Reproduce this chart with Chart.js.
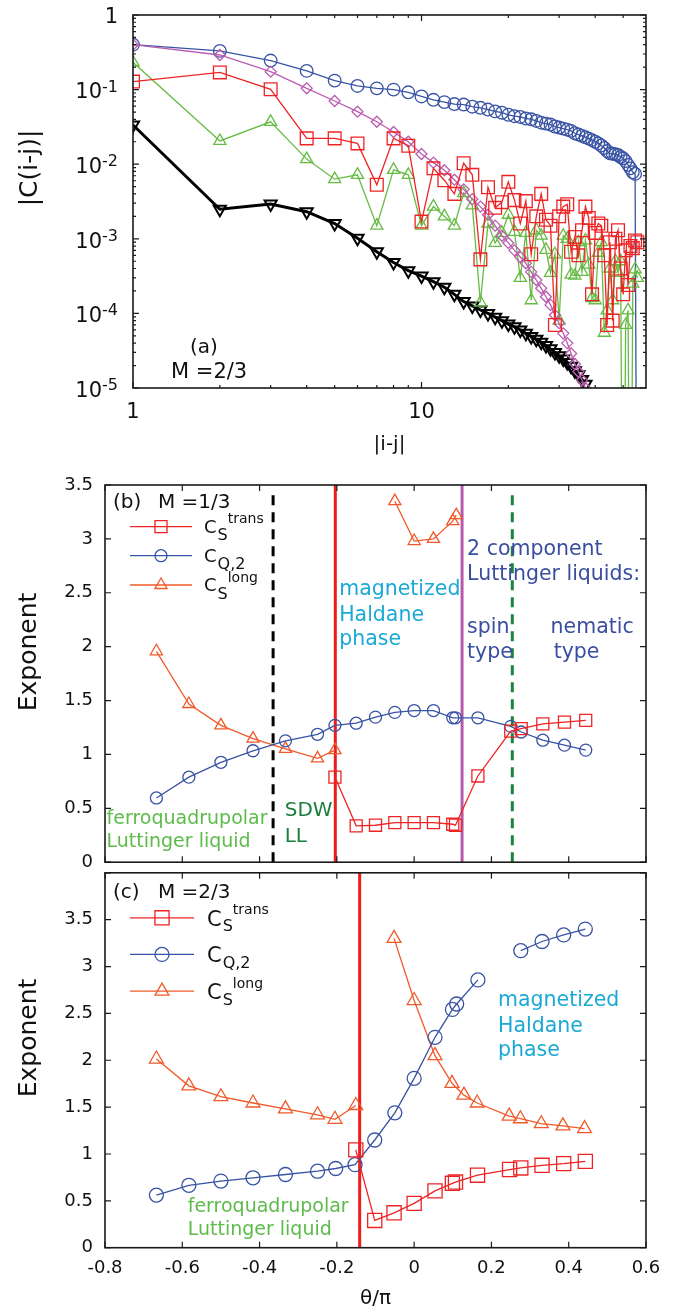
<!DOCTYPE html>
<html><head><meta charset="utf-8">
<script src="https://cdn.jsdelivr.net/npm/chart.js@4.4.1/dist/chart.umd.min.js"></script>
<style>
html,body{margin:0;padding:0;background:#fff;}
body{width:681px;height:1311px;position:relative;overflow:hidden;}
canvas{position:absolute;left:0;}
</style></head><body>
<canvas id="ca" width="681" height="470" style="top:0px;width:681px;height:470px"></canvas>
<canvas id="cb" width="681" height="430" style="top:455px;width:681px;height:430px"></canvas>
<canvas id="cc" width="681" height="461" style="top:850px;width:681px;height:461px"></canvas>
<script>
const FONT = '"DejaVu Sans", "Liberation Sans", sans-serif';

// ---------- Panel (a) data : |C(i-j)| vs |i-j| ----------
const aSep = [1,2,3,4,5,6,7,8,9,10,11,12,13,14,15,16,17,18,19,20,21,22,23,24,25,26,27,28,29,30,31,32,33,34,35,36,37,38,39,40,41,42,43,44,45,46,47,48,49,50,51,52,53,54,55,56];
const aBlue = [0.40,0.33,0.245,0.178,0.132,0.112,0.104,0.100,0.092,0.081,0.073,0.068,0.064,0.063,0.059,0.057,0.054,0.051,0.049,0.046,0.044,0.043,0.041,0.040,0.038,0.036,0.035,0.034,0.032,0.031,0.030,0.029,0.028,0.026,0.025,0.024,0.023,0.022,0.021,0.020,0.019,0.0178,0.0165,0.015,0.014,0.0138,0.0136,0.0133,0.0125,0.012,0.011,0.0098,0.0088,0.0078,0.0074,1e-9];
const aBlack = [0.0335,0.00249,0.00293,0.00231,0.0016,0.00102,0.00067,0.00048,0.000374,0.000317,0.000266,0.000224,0.00018,0.000144,0.000126,0.000111,0.0001,0.000089,0.00008,0.000072,0.000066,0.00006,0.000054,0.000049,0.000045,0.000041,0.000037,0.0000335,0.00003,0.000027,0.0000245,0.000022,0.0000195,0.000017,0.000015,0.000013,0.0000112];
const aPurple = [0.40,0.291,0.174,0.104,0.0703,0.0506,0.0371,0.0270,0.020,0.0137,0.0105,0.0083,0.0062,0.0046,0.0034,0.0027,0.0021,0.0015,0.0011,0.00088,0.0007,0.00057,0.00047,0.00036,0.00028,0.000217,0.000167,0.00013,0.000095,0.000074,0.000054,0.00004,0.000029,0.000021,0.0000165,0.0000128,0.00001];
const aRed = [0.128,0.17,0.101,0.0222,0.0222,0.019,0.0053,0.0222,0.0177,0.0017,0.0088,0.0061,0.0040,0.0103,0.0072,0.00053,0.0049,0.0026,0.0031,0.0058,0.0033,0.0016,0.0032,0.00062,0.0020,0.0040,0.0018,0.0015,0.00007,0.0020,0.0027,0.0029,0.00067,0.00106,0.0006,0.0013,0.0027,0.0019,0.00018,0.0012,0.0016,0.0015,0.0006,0.00007,0.0009,0.00008,0.0010,0.0013,0.0004,0.00018,0.0007,0.00024,0.0008,0.00075,0.00095,0.0009];
const aGreen = [0.232,0.0205,0.037,0.0117,0.0063,0.0072,0.0015,0.0084,0.0072,0.0015,0.0027,0.0020,0.0015,0.0041,0.0028,0.00014,0.0016,0.00088,0.0012,0.0021,0.00124,0.0003,0.0012,0.00015,0.0013,0.0011,0.00071,0.00035,0.00062,0.00008,0.0011,0.0010,0.00033,0.00032,0.0009,0.00036,0.00095,0.00045,0.00016,0.00015,0.00065,0.0009,0.000055,0.00011,0.0004,0.00015,0.0005,0.00035,0.0005,1e-9,0.00007,0.00011,1e-9,0.00025,0.00039,0.0003];
const aYTickExp = [0,-1,-2,-3,-4,-5];
const aXTickLabels = [1,10];

// ---------- Panel (b) data : M = 1/3 ----------
const bThetaTrans = [-0.205,-0.15,-0.1,-0.05,0,0.05,0.1,0.107,0.165,0.25,0.277,0.333,0.389,0.444];
const bTrans      = [0.79,0.337,0.343,0.367,0.367,0.367,0.352,0.343,0.80,1.217,1.24,1.284,1.30,1.316];
const bThetaQ2 = [-0.667,-0.583,-0.5,-0.417,-0.333,-0.25,-0.205,-0.15,-0.1,-0.05,0,0.05,0.1,0.107,0.165,0.25,0.277,0.333,0.389,0.444];
const bQ2      = [0.596,0.789,0.927,1.034,1.126,1.187,1.27,1.29,1.346,1.39,1.407,1.407,1.34,1.34,1.34,1.26,1.208,1.132,1.086,1.04];
const bThetaLong = [-0.667,-0.583,-0.5,-0.417,-0.333,-0.25,-0.205,-0.12,-0.05,0,0.05,0.1,0.109];
const bLong      = [1.957,1.468,1.27,1.147,1.052,0.963,1.04,null,3.35,2.98,3.0,3.165,3.22];
const bBoundX   = [-0.365,-0.204,0.124,0.254];
const bBoundTop = [3.42,3.5,3.5,3.42];

// ---------- Panel (c) data : M = 2/3 ----------
const cThetaTrans = [-0.151,-0.102,-0.052,0,0.054,0.099,0.107,0.164,0.247,0.276,0.331,0.387,0.443];
const cTrans      = [1.044,0.291,0.372,0.473,0.606,0.687,0.70,0.774,0.834,0.851,0.879,0.897,0.921];
const cThetaQ2 = [-0.667,-0.583,-0.5,-0.417,-0.333,-0.25,-0.203,-0.153,-0.102,-0.05,0,0.054,0.099,0.11,0.165,0.22,0.276,0.331,0.387,0.443];
const cQ2      = [0.561,0.666,0.711,0.746,0.781,0.816,0.845,0.886,1.149,1.439,1.807,2.245,2.542,2.60,2.857,null,3.169,3.267,3.337,3.40];
const cThetaLong = [-0.667,-0.583,-0.5,-0.417,-0.333,-0.25,-0.205,-0.151,-0.1,-0.052,0,0.054,0.098,0.129,0.163,0.246,0.275,0.329,0.385,0.441];
const cLong      = [2.013,1.727,1.611,1.544,1.481,1.418,1.37,1.517,null,3.30,2.637,2.049,1.754,1.628,1.544,1.404,1.376,1.323,1.30,1.271];
const cBoundX   = [-0.141];
const cBoundTop = [4.03];

// ---------- colours ----------
const RED = '#ee2324', ORANGE = '#f05a2a', BLUE = '#3953a4', GREENA = '#66bb44', PURPLE = '#bb5cb0', BLACK = '#000';
const TXT_LGREEN = '#5dbb4a', TXT_DGREEN = '#1a7f3c', TXT_CYAN = '#1aa9d6', TXT_NAVY = '#3a4ea0';

function series(xs, ys, color, style, r, extra) {
  return Object.assign({
    data: xs.map((x, i) => ({x: x, y: ys[i]})),
    borderColor: color, backgroundColor: 'rgba(0,0,0,0)',
    pointBackgroundColor: 'rgba(0,0,0,0)', pointBorderColor: color,
    borderWidth: 1.3, pointBorderWidth: 1.3, pointStyle: style, pointRadius: r,
    tension: 0, spanGaps: false, fill: false
  }, extra || {});
}
function vline(x, top, color, width, dash) {
  return {data: [{x: x, y: 0}, {x: x, y: top}], borderColor: color, borderWidth: width,
    borderDash: dash || [], pointRadius: 0, fill: false, tension: 0};
}
const fmtTick = v => String(Math.round(v * 10) / 10 + 0);

// frame + inward ticks on all sides
const framePlugin = {
  id: 'frame',
  afterDraw(chart, args, o) {
    const {ctx, chartArea: a, scales: {x, y}} = chart;
    ctx.save();
    ctx.strokeStyle = '#1a1a1a'; ctx.lineWidth = 1.6;
    ctx.strokeRect(a.left, a.top, a.right - a.left, a.bottom - a.top);
    ctx.lineWidth = 1.2;
    const tick = (vals, len, axis) => vals.forEach(v => {
      ctx.beginPath();
      if (axis === 'x') {
        const p = x.getPixelForValue(v);
        ctx.moveTo(p, a.bottom); ctx.lineTo(p, a.bottom - len);
        ctx.moveTo(p, a.top); ctx.lineTo(p, a.top + len);
      } else {
        const p = y.getPixelForValue(v);
        ctx.moveTo(a.left, p); ctx.lineTo(a.left + len, p);
        ctx.moveTo(a.right, p); ctx.lineTo(a.right - len, p);
      }
      ctx.stroke();
    });
    tick(o.xMajor || [], 6, 'x'); tick(o.xMinor || [], 3, 'x');
    tick(o.yMajor || [], 6, 'y'); tick(o.yMinor || [], 3, 'y');
    ctx.restore();
  }
};

// text notes in data coordinates
const notesPlugin = {
  id: 'notes',
  afterDatasetsDraw(chart, args, o) {
    const {ctx, scales: {x, y}} = chart;
    ctx.save();
    ctx.textAlign = 'left'; ctx.textBaseline = 'alphabetic';
    (o.items || []).forEach(n => {
      ctx.font = n.s + 'px ' + FONT; ctx.fillStyle = n.c;
      ctx.fillText(n.t, x.getPixelForValue(n.x), y.getPixelForValue(n.y));
    });
    ctx.restore();
  }
};

// legend + panel title for (b) and (c)
const keyPlugin = {
  id: 'key',
  afterDraw(chart, args, o) {
    const {ctx, chartArea: a} = chart;
    ctx.save();
    ctx.fillStyle = '#111'; ctx.textAlign = 'left'; ctx.textBaseline = 'alphabetic';
    ctx.font = o.titleSize + 'px ' + FONT;
    ctx.fillText(o.tag, a.left + 8, a.top + o.titleDy);
    ctx.fillText(o.mag, a.left + 53, a.top + o.titleDy);
    o.items.forEach((it, i) => {
      const yy = a.top + o.rows[i];
      const x0 = a.left + 25, x1 = a.left + o.lineEnd;
      ctx.strokeStyle = it.color; ctx.lineWidth = 1.3;
      ctx.beginPath(); ctx.moveTo(x0, yy); ctx.lineTo(x1, yy); ctx.stroke();
      ctx.fillStyle = 'rgba(0,0,0,0)';
      Chart.helpers.drawPoint(ctx, {pointStyle: it.style, radius: it.r, borderWidth: 1.3, rotation: 0}, (x0 + x1) / 2, yy);
      ctx.fillStyle = '#111';
      const xt = a.left + o.textX;
      ctx.font = o.cSize + 'px ' + FONT;
      ctx.fillText('C', xt, yy + o.cDy);
      const wc = ctx.measureText('C').width;
      ctx.font = '16px ' + FONT;
      ctx.fillText(it.sub, xt + wc + 1, yy + 13.5);
      const ws = ctx.measureText(it.sub).width;
      if (it.sup) { ctx.font = '14px ' + FONT; ctx.fillText(it.sup, xt + wc + ws + 1, yy - 3.5); }
    });
    ctx.restore();
  }
};

// rotated y-axis title at a fixed page spot
const yTitlePlugin = {
  id: 'ytitle',
  afterDraw(chart, args, o) {
    const {ctx} = chart;
    ctx.save();
    ctx.translate(o.x, o.y); ctx.rotate(-Math.PI / 2);
    ctx.font = o.size + 'px ' + FONT; ctx.fillStyle = '#111';
    ctx.textAlign = 'center'; ctx.textBaseline = 'middle';
    ctx.fillText(o.text, 0, 0);
    ctx.restore();
  }
};

// panel (a) log labels with superscripts
const aLabelPlugin = {
  id: 'alabels',
  afterDraw(chart) {
    const {ctx, chartArea: a, scales: {x, y}} = chart;
    ctx.save(); ctx.fillStyle = '#111'; ctx.textBaseline = 'alphabetic';
    const right = a.left - 15;
    aYTickExp.forEach(e => {
      const py = y.getPixelForValue(Math.pow(10, e));
      ctx.textAlign = 'right';
      if (e === 0) { ctx.font = '21px ' + FONT; ctx.fillText('1', right, py + 8); }
      else {
        ctx.font = '16px ' + FONT;
        const sup = String(e);
        const ws = ctx.measureText(sup).width;
        ctx.fillText(sup, right, py + 2);
        ctx.font = '21px ' + FONT;
        ctx.fillText('10', right - ws, py + 8.7);
      }
    });
    ctx.textAlign = 'center'; ctx.font = '21px ' + FONT;
    aXTickLabels.forEach(v => ctx.fillText(String(v), x.getPixelForValue(v), a.bottom + 30));
    ctx.font = '20px ' + FONT;
    ctx.fillText('|i-j|', (a.left + a.right) / 2, a.bottom + 62);
    ctx.textAlign = 'left'; ctx.font = '20px ' + FONT;
    ctx.fillText('(a)', a.left + 57, a.bottom - 35);
    ctx.font = '21px ' + FONT;
    ctx.fillText('M =2/3', a.left + 38, a.bottom - 10);
    ctx.restore();
  }
};

const baseOpts = {responsive: false, animation: false, events: []};

// ---------- Chart (a) ----------
const logMinor = [];
[1, 10].forEach(d => { for (let k = 2; k <= 9; k++) { if (k * d < 60) logMinor.push(k * d); } });
const yMinorA = [];
[1e-5, 1e-4, 1e-3, 1e-2, 1e-1].forEach(d => { for (let k = 2; k <= 9; k++) yMinorA.push(k * d); });

new Chart(document.getElementById('ca'), {
  type: 'line',
  data: {datasets: [
    series(aSep.slice(0, aRed.length), aRed, RED, 'rect', 9),
    series(aSep.slice(0, aPurple.length), aPurple, PURPLE, 'rectRot', 5.5),
    series(aSep.slice(0, aGreen.length), aGreen, GREENA, 'triangle', 7),
    series(aSep.slice(0, aBlack.length), aBlack, BLACK, 'triangle', 7, {borderWidth: 3, pointBorderWidth: 2, pointRotation: 180}),
    series(aSep.slice(0, aBlue.length), aBlue, BLUE, 'circle', 6.3)
  ]},
  options: Object.assign({}, baseOpts, {
    layout: {padding: {left: 133, right: 35, top: 15, bottom: 82}},
    scales: {
      x: {type: 'logarithmic', min: 1, max: 60, display: false},
      y: {type: 'logarithmic', min: 1e-5, max: 1, display: false}
    },
    plugins: {
      legend: {display: false}, tooltip: {enabled: false},
      frame: {xMajor: [1, 10], xMinor: logMinor, yMajor: [1e-5, 1e-4, 1e-3, 1e-2, 1e-1, 1], yMinor: yMinorA},
      ytitle: {text: '|C(i-j)|', x: 30, y: 168, size: 25}
    }
  }),
  plugins: [framePlugin, aLabelPlugin, yTitlePlugin]
});

// ---------- Chart (b) ----------
const thetaTicks = [-0.8, -0.6, -0.4, -0.2, 0, 0.2, 0.4, 0.6];
const bDatasets = [
  series(bThetaTrans, bTrans, RED, 'rect', 8.5),
  series(bThetaQ2, bQ2, BLUE, 'circle', 6),
  series(bThetaLong, bLong, ORANGE, 'triangle', 7),
  vline(bBoundX[0], bBoundTop[0], '#000', 3, [10, 7]),
  vline(bBoundX[1], bBoundTop[1], '#ee1c1c', 3),
  vline(bBoundX[2], bBoundTop[2], '#b65bac', 3),
  vline(bBoundX[3], bBoundTop[3], '#17853c', 3, [10, 7])
];
const bNotes = [
  {t: 'ferroquadrupolar', x: -0.796, y: 0.355, c: TXT_LGREEN, s: 19},
  {t: 'Luttinger liquid', x: -0.796, y: 0.138, c: TXT_LGREEN, s: 19},
  {t: 'SDW', x: -0.335, y: 0.428, c: TXT_DGREEN, s: 20},
  {t: 'LL', x: -0.335, y: 0.183, c: TXT_DGREEN, s: 20},
  {t: 'magnetized', x: -0.194, y: 2.483, c: TXT_CYAN, s: 20.5},
  {t: 'Haldane', x: -0.194, y: 2.24, c: TXT_CYAN, s: 20.5},
  {t: 'phase', x: -0.194, y: 2.018, c: TXT_CYAN, s: 20.5},
  {t: '2 component', x: 0.137, y: 2.85, c: TXT_NAVY, s: 20.5},
  {t: 'Luttinger liquids:', x: 0.137, y: 2.615, c: TXT_NAVY, s: 20.5},
  {t: 'spin', x: 0.137, y: 2.126, c: TXT_NAVY, s: 20.5},
  {t: 'type', x: 0.137, y: 1.896, c: TXT_NAVY, s: 20.5},
  {t: 'nematic', x: 0.353, y: 2.126, c: TXT_NAVY, s: 20.5},
  {t: 'type', x: 0.361, y: 1.896, c: TXT_NAVY, s: 20.5}
];
const yTick05 = [0, 0.5, 1, 1.5, 2, 2.5, 3, 3.5, 4];

new Chart(document.getElementById('cb'), {
  type: 'line',
  data: {datasets: bDatasets},
  options: Object.assign({}, baseOpts, {
    layout: {padding: {left: 0, right: 35, top: 30, bottom: 18.3}},
    scales: {
      x: {type: 'linear', min: -0.8, max: 0.6, display: false},
      y: {type: 'linear', min: 0, max: 3.5,
          ticks: {stepSize: 0.5, padding: 12, color: '#111', font: {family: FONT, size: 18}, callback: fmtTick},
          grid: {display: false, drawTicks: false}, border: {display: false},
          afterFit(s) { s.width = 105; }}
    },
    plugins: {
      legend: {display: false}, tooltip: {enabled: false},
      frame: {xMajor: thetaTicks, yMajor: yTick05.slice(0, 8)},
      notes: {items: bNotes},
      key: {tag: '(b)', mag: 'M =1/3', titleSize: 20, titleDy: 23, rows: [41.7, 70.7, 100], lineEnd: 87, textX: 99, cSize: 18, cDy: 6,
            items: [{color: RED, style: 'rect', r: 8.5, sub: 'S', sup: 'trans'},
                    {color: BLUE, style: 'circle', r: 6, sub: 'Q,2'},
                    {color: ORANGE, style: 'triangle', r: 7, sub: 'S', sup: 'long'}]},
      ytitle: {text: 'Exponent', x: 29, y: 652 - 455, size: 25}
    }
  }),
  plugins: [framePlugin, notesPlugin, keyPlugin, yTitlePlugin]
});

// ---------- Chart (c) ----------
const cDatasets = [
  series(cThetaTrans, cTrans, RED, 'rect', 10),
  series(cThetaQ2, cQ2, BLUE, 'circle', 7),
  series(cThetaLong, cLong, ORANGE, 'triangle', 8),
  vline(cBoundX[0], cBoundTop[0], '#ee1c1c', 3)
];
const cNotes = [
  {t: 'ferroquadrupolar', x: -0.586, y: 0.378, c: TXT_LGREEN, s: 19},
  {t: 'Luttinger liquid', x: -0.586, y: 0.133, c: TXT_LGREEN, s: 19},
  {t: 'magnetized', x: 0.217, y: 2.574, c: TXT_CYAN, s: 20.5},
  {t: 'Haldane', x: 0.217, y: 2.305, c: TXT_CYAN, s: 20.5},
  {t: 'phase', x: 0.217, y: 2.045, c: TXT_CYAN, s: 20.5}
];

new Chart(document.getElementById('cc'), {
  type: 'line',
  data: {datasets: cDatasets},
  options: Object.assign({}, baseOpts, {
    layout: {padding: {left: 0, right: 35, top: 16.7, bottom: 0}},
    scales: {
      x: {type: 'linear', min: -0.8, max: 0.6,
          ticks: {stepSize: 0.2, padding: 10, color: '#111', font: {family: FONT, size: 18}, callback: fmtTick},
          grid: {display: false, drawTicks: false}, border: {display: false},
          title: {display: true, text: 'θ/π', color: '#111', font: {family: FONT, size: 20}, padding: {top: 0, bottom: 0}},
          afterFit(s) { s.height = 63.3; }},
      y: {type: 'linear', min: 0, max: 4,
          ticks: {stepSize: 0.5, padding: 12, color: '#111', font: {family: FONT, size: 18}, callback: fmtTick},
          grid: {display: false, drawTicks: false}, border: {display: false},
          afterBuildTicks(s) { s.ticks = s.ticks.filter(t => t.value < 3.9); },
          afterFit(s) { s.width = 105; }}
    },
    plugins: {
      legend: {display: false}, tooltip: {enabled: false},
      frame: {xMajor: thetaTicks, yMajor: yTick05},
      notes: {items: cNotes},
      key: {tag: '(c)', mag: 'M =2/3', titleSize: 20, titleDy: 25, rows: [45, 81.6, 118.3], lineEnd: 89, textX: 102, cSize: 21, cDy: 8,
            items: [{color: RED, style: 'rect', r: 10, sub: 'S', sup: 'trans'},
                    {color: BLUE, style: 'circle', r: 7, sub: 'Q,2'},
                    {color: ORANGE, style: 'triangle', r: 8, sub: 'S', sup: 'long'}]},
      ytitle: {text: 'Exponent', x: 29, y: 1038 - 850, size: 25}
    }
  }),
  plugins: [framePlugin, notesPlugin, keyPlugin, yTitlePlugin]
});
</script>
</body></html>
